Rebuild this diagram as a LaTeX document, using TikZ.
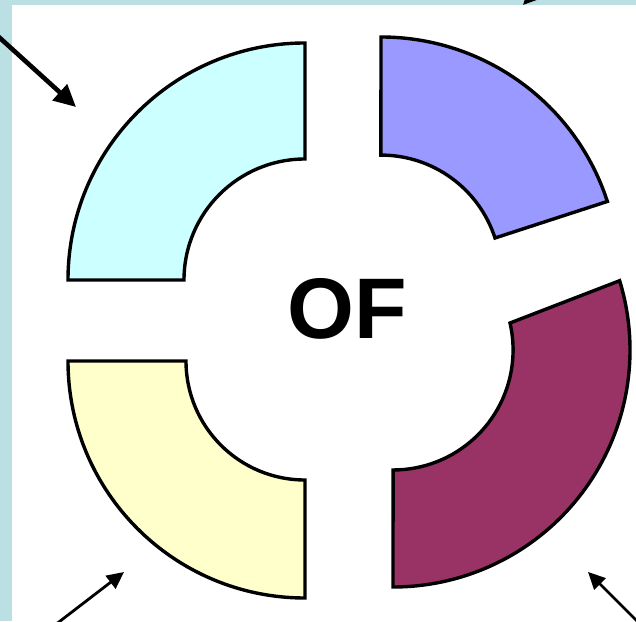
\documentclass[tikz,border=0pt]{standalone}
\usepackage{fontspec}
\setmainfont{Liberation Sans}
\usetikzlibrary{arrows.meta}
\definecolor{stripblue}{RGB}{187,224,227}
\definecolor{segcyan}{RGB}{204,255,255}
\definecolor{segviolet}{RGB}{153,153,255}
\definecolor{segyellow}{RGB}{255,255,204}
\definecolor{segmaroon}{RGB}{153,51,102}
\tikzset{
  seg/.style={draw=black, line width=3.4pt, line join=miter},
  bigarrow/.style={line width=4.6pt, -{Triangle[length=22pt,width=21pt]}},
  smallarrow/.style={line width=2.8pt, -{Triangle[length=17pt,width=16pt]}}
}
\begin{document}
\begin{tikzpicture}[x=1pt,y=1pt]
\useasboundingbox (0,0) rectangle (636,621);
\clip (0,0) rectangle (636,621);
\fill[white] (0,0) rectangle (636,621);
\fill[stripblue] (0,0) rectangle (12,621);
\fill[stripblue] (0,616) rectangle (636,621);
% segments
\filldraw[seg, fill=segcyan] (305,578) arc[start angle=90, end angle=180, radius=237] -- (184,341) arc[start angle=180, end angle=90, radius=121] -- cycle;
\filldraw[seg, fill=segviolet] (381,584) arc[start angle=90, end angle=18, radius=238] -- (495,383) arc[start angle=18, end angle=90, radius=120] -- cycle;
\filldraw[seg, fill=segyellow] (68,260) arc[start angle=180, end angle=270, radius=237] -- (305,141) arc[start angle=270, end angle=180, radius=119] -- cycle;
\filldraw[seg, fill=segmaroon] (393,34) arc[start angle=270, end angle=377, radius=237] -- (510,298) arc[start angle=13, end angle=-90, radius=120] -- cycle;
% text
\node[font=\bfseries\fontsize{86}{86}\selectfont, inner sep=0pt] (of) at (347,312) {OF};
% arrows
\coordinate (tlA) at (-10,592);
\coordinate (tlB) at (76,514);
\coordinate (blA) at (55,-4);
\coordinate (blB) at (124,49);
\coordinate (brA) at (641,-4);
\coordinate (brB) at (588,49);
\coordinate (trA) at (565,660);
\coordinate (trB) at (523,616);
\draw[bigarrow] (tlA) -- (tlB);
\draw[smallarrow] (blA) -- (blB);
\draw[smallarrow] (brA) -- (brB);
\draw[smallarrow] (trA) -- (trB);
\end{tikzpicture}
\end{document}
